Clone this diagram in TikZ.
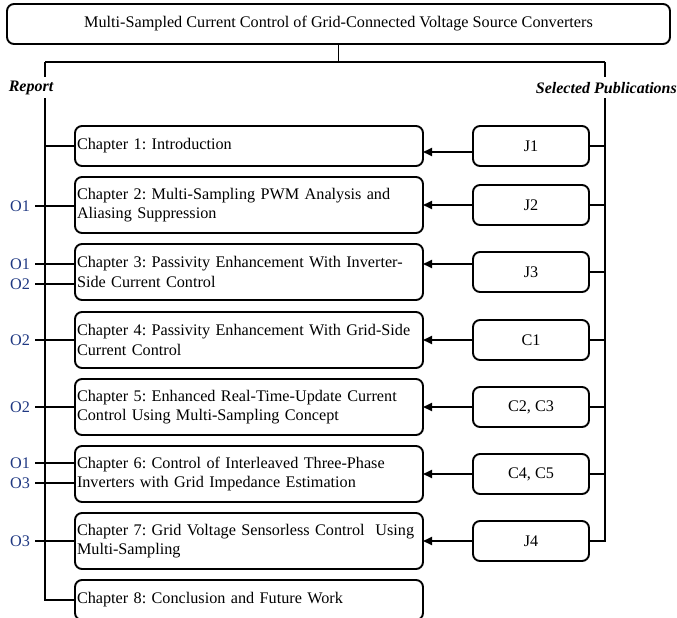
\documentclass[tikz,border=0pt]{standalone}
\usepackage{fontspec}
\setmainfont{Liberation Serif}
\usetikzlibrary{arrows.meta}
\definecolor{olab}{RGB}{31,56,130}
\frenchspacing
\begin{document}
\begin{tikzpicture}[x=1pt,y=-1pt,
  every node/.style={font=\fontsize{16.2}{19.5}\selectfont},
  box/.style={draw, rounded corners=7pt, line width=1.9pt, outer sep=0pt, inner sep=0pt},
  chap/.style={box, minimum width=348pt, text width=344pt, align=left},
  pub/.style={box, minimum width=116pt, minimum height=40pt, align=center},
  ln/.style={line width=1.9pt},
  arr/.style={line width=1.9pt, -{Triangle[length=9pt,width=8pt]}},
  olabel/.style={text=olab, inner sep=0pt},
  head/.style={font=\fontsize{16}{19.5}\selectfont\bfseries\itshape, inner sep=0pt}
]
\useasboundingbox (0,0) rectangle (677,618);
\clip (0,0) rectangle (677,618);

% title
\node[box, minimum width=663pt, minimum height=40pt] (title) at (338.5,24)
  {Multi-Sampled Current Control of Grid-Connected Voltage Source Converters};

% top tree
\coordinate (hl) at (45,62);
\coordinate (hr) at (605,62);
\draw[ln] (title.south) -- (title.south |- hl);
\draw[ln] (hl) -- (hr);
\draw[ln] (hl) -- ++(0,15);
\draw[ln] (hr) -- ++(0,15);
\node[head] (rep) at (31,88) {Report};
\node[head, anchor=east] (sel) at (677,88) {Selected Publications};

% chapters
\node[chap, minimum height=40pt] (c1) at (249,146) {Chapter 1: Introduction};
\node[chap, minimum height=56pt] (c2) at (249,205) {Chapter 2: Multi-Sampling PWM Analysis and\\Aliasing Suppression};
\node[chap, minimum height=56pt] (c3) at (249,272) {Chapter 3: Passivity Enhancement With Inverter-\\Side Current Control};
\node[chap, minimum height=56pt] (c4) at (249,340) {Chapter 4: Passivity Enhancement With Grid-Side\\Current Control};
\node[chap, minimum height=56pt] (c5) at (249,407) {Chapter 5: Enhanced Real-Time-Update Current\\Control Using Multi-Sampling Concept};
\node[chap, minimum height=56pt] (c6) at (249,474) {Chapter 6: Control of Interleaved Three-Phase\\Inverters with Grid Impedance Estimation};
\node[chap, minimum height=56pt] (c7) at (249,541) {Chapter 7: Grid Voltage Sensorless Control\ \ Using\\Multi-Sampling};
\node[chap, minimum height=40pt] (c8) at (249,600) {Chapter 8: Conclusion and Future Work};

% publications
\node[pub] (p1) at (531,146) {J1};
\node[pub] (p2) at (531,205) {J2};
\node[pub] (p3) at (531,272) {J3};
\node[pub] (p4) at (531,340) {C1};
\node[pub] (p5) at (531,407) {C2, C3};
\node[pub] (p6) at (531,474) {C4, C5};
\node[pub] (p7) at (531,541) {J4};

% left trunk
\coordinate (lt) at (45,98);
\draw[ln] (lt) -- (lt |- c8.west) -- (c8.west);
\draw[ln] (lt |- c1.west) -- (c1.west);

% objective labels and ties
\foreach \n/\lab/\yy in {a/O1/206, b/O1/264, c/O2/284, d/O2/340, e/O2/407, f/O1/463, g/O3/483, h/O3/541}{
  \node[olabel] (o\n) at (20,\yy) {\lab};
  \coordinate (s\n) at (35,\yy);
}
\draw[ln] (sa) -- (sa -| c2.west);
\draw[ln] (sb) -- (sb -| c3.west);
\draw[ln] (sc) -- (sc -| c3.west);
\draw[ln] (sd) -- (sd -| c4.west);
\draw[ln] (se) -- (se -| c5.west);
\draw[ln] (sf) -- (sf -| c6.west);
\draw[ln] (sg) -- (sg -| c6.west);
\draw[ln] (sh) -- (sh -| c7.west);

% right trunk
\coordinate (rt) at (605,98);
\draw[ln] (rt) -- (rt |- p7.east) -- (p7.east);
\foreach \p in {p1,p2,p3,p4,p5,p6}{
  \draw[ln] (\p.east) -- (\p.east -| rt);
}

% arrows
\draw[arr] ([yshift=-6pt]p1.west) -- ([yshift=-6pt]p1.west -| c1.east);
\draw[arr] (p2.west) -- (p2.west -| c2.east);
\draw[arr] ([yshift=8pt]p3.west) -- ([yshift=8pt]p3.west -| c3.east);
\draw[arr] (p4.west) -- (p4.west -| c4.east);
\draw[arr] (p5.west) -- (p5.west -| c5.east);
\draw[arr] (p6.west) -- (p6.west -| c6.east);
\draw[arr] (p7.west) -- (p7.west -| c7.east);
\end{tikzpicture}
\end{document}
